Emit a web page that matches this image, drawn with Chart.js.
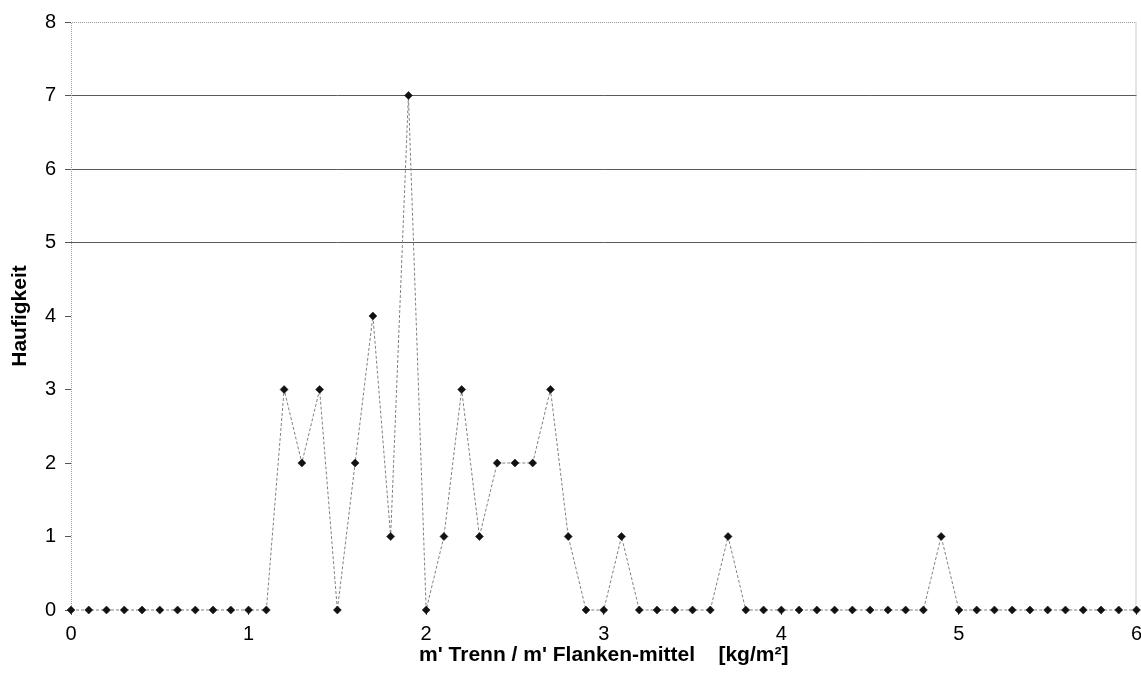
<!DOCTYPE html>
<html>
<head>
<meta charset="utf-8">
<script src="https://cdn.jsdelivr.net/npm/chart.js@4/dist/chart.umd.min.js"></script>
<style>
  html, body { margin: 0; padding: 0; background: #fff; }
  #wrap { width: 1141px; height: 695px; position: relative; }
</style>
</head>
<body>
<div id="wrap"><canvas id="c"></canvas></div>
<script>
// Mass ratio classes (kg/m²)
const ratioClasses = [
  0.0, 0.1, 0.2, 0.3, 0.4, 0.5, 0.6, 0.7, 0.8, 0.9,
  1.0, 1.1, 1.2, 1.3, 1.4, 1.5, 1.6, 1.7, 1.8, 1.9,
  2.0, 2.1, 2.2, 2.3, 2.4, 2.5, 2.6, 2.7, 2.8, 2.9,
  3.0, 3.1, 3.2, 3.3, 3.4, 3.5, 3.6, 3.7, 3.8, 3.9,
  4.0, 4.1, 4.2, 4.3, 4.4, 4.5, 4.6, 4.7, 4.8, 4.9,
  5.0, 5.1, 5.2, 5.3, 5.4, 5.5, 5.6, 5.7, 5.8, 5.9,
  6.0
];
// Frequency per class
const frequency = [
  0, 0, 0, 0, 0, 0, 0, 0, 0, 0,
  0, 0, 3, 2, 3, 0, 2, 4, 1, 7,
  0, 1, 3, 1, 2, 2, 2, 3, 1, 0,
  0, 1, 0, 0, 0, 0, 0, 1, 0, 0,
  0, 0, 0, 0, 0, 0, 0, 0, 0, 1,
  0, 0, 0, 0, 0, 0, 0, 0, 0, 0,
  0
];
const xTicks = [0, 1, 2, 3, 4, 5, 6];
const yTicks = [0, 1, 2, 3, 4, 5, 6, 7, 8];
const gridValues = [5, 6, 7];

const xTitle = "m' Trenn / m' Flanken-mittel    [kg/m²]";
const yTitle = 'Haufigkeit';

const FONT = "'Liberation Sans', Arial, sans-serif";

// dotted frame on top, left and right of the plot area
const framePlugin = {
  id: 'frame',
  beforeDatasetsDraw(chart) {
    const { ctx, chartArea: a } = chart;
    ctx.save();
    ctx.strokeStyle = '#9a9a9a';
    ctx.lineWidth = 1;
    ctx.setLineDash([1, 1]);
    ctx.beginPath();
    ctx.moveTo(a.left + 0.5, a.bottom);
    ctx.lineTo(a.left + 0.5, a.top + 0.5);
    ctx.lineTo(a.right - 0.5, a.top + 0.5);
    ctx.lineTo(a.right - 0.5, a.bottom);
    ctx.stroke();
    ctx.restore();
  }
};

new Chart(document.getElementById('c'), {
  type: 'line',
  data: {
    datasets: [{
      data: ratioClasses.map((x, i) => ({ x: x, y: frequency[i] })),
      borderColor: '#808080',
      borderWidth: 1,
      borderDash: [3, 2],
      tension: 0,
      clip: false,
      pointStyle: 'rectRot',
      pointRadius: 4,
      pointBackgroundColor: '#111',
      pointBorderColor: '#111',
      pointBorderWidth: 0.5
    }]
  },
  options: {
    responsive: true,
    maintainAspectRatio: false,
    animation: false,
    layout: { padding: { top: 22, right: 4, left: 0, bottom: 27 } },
    plugins: { legend: { display: false }, tooltip: { enabled: false } },
    scales: {
      x: {
        type: 'linear',
        min: 0, max: 6,
        afterBuildTicks(scale) { scale.ticks = xTicks.map(v => ({ value: v })); },
        afterFit(scale) { scale.height = 58; scale.paddingLeft = 0; scale.paddingRight = 0; },
        grid: { color: 'transparent', tickColor: '#555', tickLength: 5, drawOnChartArea: false },
        border: { display: false },
        ticks: { color: '#000', font: { family: FONT, size: 20 }, padding: 7, maxRotation: 0 },
        title: {
          display: true, text: xTitle, color: '#000',
          font: { family: FONT, size: 21, weight: 'bold' }, padding: { top: 4, bottom: 0 }
        }
      },
      y: {
        min: 0, max: 8,
        afterBuildTicks(scale) { scale.ticks = yTicks.map(v => ({ value: v })); },
        afterFit(scale) { scale.width = 71; scale.paddingTop = 0; scale.paddingBottom = 0; },
        grid: {
          color: c => gridValues.includes(c.tick.value) ? '#5a5a5a' : 'transparent',
          lineWidth: 1,
          tickColor: '#555',
          tickLength: 6
        },
        border: { display: false },
        ticks: { color: '#000', font: { family: FONT, size: 20 }, padding: 9 },
        title: {
          display: true, text: yTitle, color: '#000',
          font: { family: FONT, size: 21, weight: 'bold' }, padding: { top: 8, bottom: 4 }
        }
      }
    }
  },
  plugins: [framePlugin]
});
</script>
</body>
</html>
